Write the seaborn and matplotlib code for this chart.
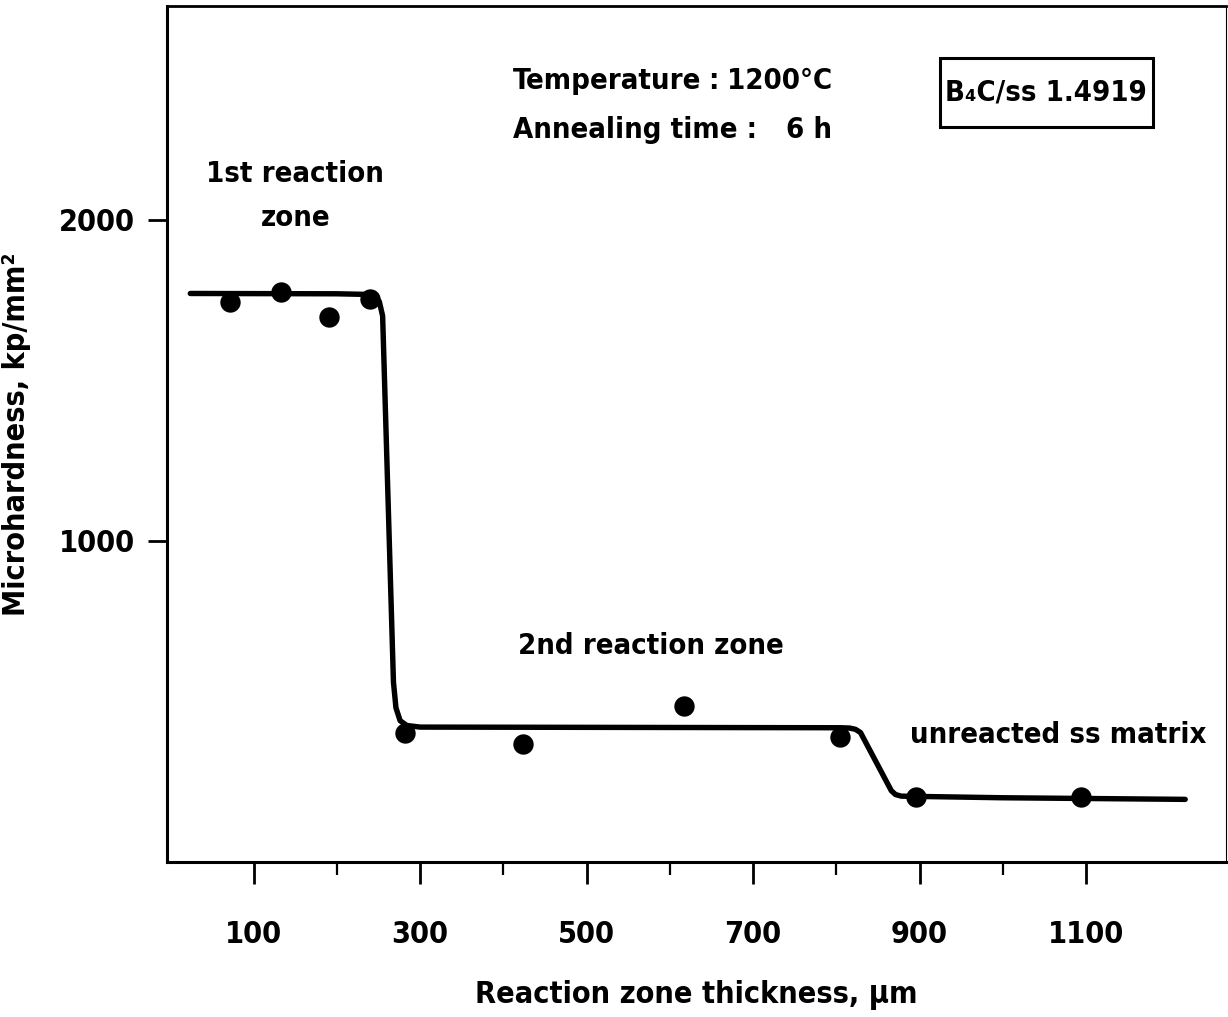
import os
import matplotlib
matplotlib.use("Agg")
import matplotlib.pyplot as plt
import seaborn as sns
import pandas as pd
from matplotlib import font_manager
from matplotlib.patches import Rectangle
from matplotlib.ticker import FixedLocator

# measured microhardness values
thickness_um = [72, 133, 190, 240, 282, 424, 617, 804, 896, 1094]
hardness = [1744, 1775, 1697, 1752, 403, 366, 485, 388, 202, 201]

# fitted trend through the three zones
curve_x = [24, 200, 238, 246, 251, 255, 268, 271, 276, 284, 300,
           805, 816, 823, 829, 866, 871, 878, 1000, 1219]
curve_y = [1770, 1769, 1767, 1762, 1745, 1700, 560, 480, 440, 425, 420,
           418, 417, 413, 403, 222, 210, 205, 200, 195]

major_ticks = [100, 300, 500, 700, 900, 1100]
minor_ticks = [200, 400, 600, 800, 1000]
y_ticks = [1000, 2000]

sns.set_theme(style="white")
plt.rcParams["font.family"] = ["DejaVu Sans"]
plt.rcParams["text.color"] = "black"
plt.rcParams["axes.labelcolor"] = "black"
plt.rcParams["xtick.color"] = "black"
plt.rcParams["ytick.color"] = "black"

# pick an upright narrow face for the lettering, bold if available
files = set(font_manager.findSystemFonts())
files.update(f.fname for f in font_manager.fontManager.ttflist)
upright = []
for f in sorted(files):
    base = os.path.basename(f).lower()
    if ("condensed" in base or "narrow" in base) and \
            "oblique" not in base and "italic" not in base:
        upright.append(f)


def rank(f):
    base = os.path.basename(f).lower()
    score = 0
    if "bold" in base and "semi" not in base and "extra" not in base:
        score -= 10
    elif "semibold" in base or "medium" in base:
        score -= 6
    if "dejavu" in base:
        score -= 3
    return score


upright.sort(key=rank)
cond_file = upright[0] if upright else None

FS = 21


def fp(size=FS):
    if cond_file:
        return font_manager.FontProperties(fname=cond_file, size=size)
    return font_manager.FontProperties(family="DejaVu Sans", weight="bold",
                                       size=size - 1)


fig = plt.figure(figsize=(12.28, 10.17), dpi=100)
ax = fig.add_axes([167 / 1228, 1 - 862 / 1017, (1226 - 167) / 1228, (862 - 6) / 1017])

pts = pd.DataFrame({"x": thickness_um, "y": hardness})
crv = pd.DataFrame({"x": curve_x, "y": curve_y})

sns.lineplot(data=crv, x="x", y="y", ax=ax, color="black", linewidth=3.9,
             sort=False, estimator=None, solid_capstyle="round",
             solid_joinstyle="round")
sns.scatterplot(data=pts, x="x", y="y", ax=ax, color="black", s=215,
                edgecolor="black", linewidth=0, zorder=3)

ax.set_xlim(-4, 1268)
ax.set_ylim(0, 2665)
ax.xaxis.set_major_locator(FixedLocator(major_ticks))
ax.xaxis.set_minor_locator(FixedLocator(minor_ticks))
ax.yaxis.set_major_locator(FixedLocator(y_ticks))
ax.set_xticklabels([str(t) for t in major_ticks])
ax.set_yticklabels([str(t) for t in y_ticks])
for lab in ax.get_xticklabels() + ax.get_yticklabels():
    lab.set_fontproperties(fp(FS + 1))

ax.tick_params(axis="x", which="major", direction="out", length=16, width=2,
               pad=26, bottom=True)
ax.tick_params(axis="x", which="minor", direction="out", length=9, width=1.6,
               bottom=True)
ax.tick_params(axis="y", which="major", direction="out", length=14, width=2,
               pad=9, left=True)

for side, lw in {"left": 2.2, "bottom": 2.2, "top": 2.0, "right": 0.8}.items():
    ax.spines[side].set_linewidth(lw)
    ax.spines[side].set_color("black")

ax.set_xlabel("Reaction zone thickness, μm", fontproperties=fp(FS + 1), labelpad=22)
ax.set_ylabel("Microhardness, kp/mm²", fontproperties=fp(FS + 1), labelpad=20)

ax.text(150, 2074, "1st reaction\nzone", ha="center", va="center",
        fontproperties=fp(), linespacing=1.75)
ax.text(418, 674, "2nd reaction zone", ha="left", va="center", fontproperties=fp())
ax.text(889, 394, "unreacted ss matrix", ha="left", va="center", fontproperties=fp())

ax.text(412, 2430, "Temperature", ha="left", va="center", fontproperties=fp())
ax.text(652, 2430, ":", ha="center", va="center", fontproperties=fp())
ax.text(795, 2430, "1200°C", ha="right", va="center", fontproperties=fp())
ax.text(412, 2280, "Annealing time :", ha="left", va="center", fontproperties=fp())
ax.text(795, 2280, "6 h", ha="right", va="center", fontproperties=fp())

# sample label with its frame
ax.add_patch(Rectangle((0.730, 0.859), 0.201, 0.080, transform=ax.transAxes,
                       facecolor="white", edgecolor="black", linewidth=2.2,
                       zorder=4))
ax.text(0.830, 0.899, "B₄C/ss 1.4919", transform=ax.transAxes,
        ha="center", va="center", fontproperties=fp(FS), zorder=5)

fig.savefig("out.png", dpi=100)
